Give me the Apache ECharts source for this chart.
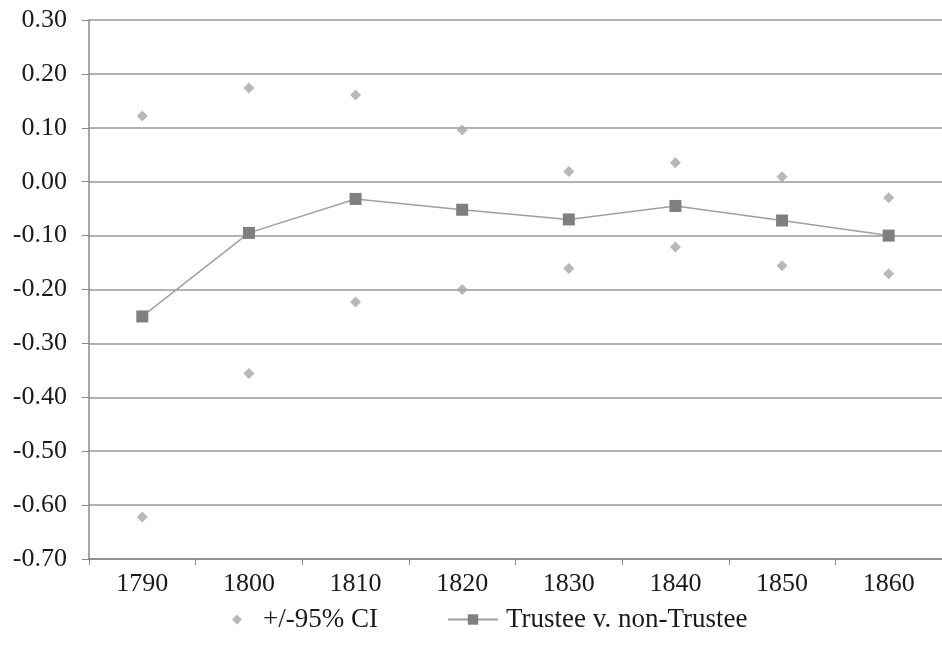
<!DOCTYPE html>
<html><head><meta charset="utf-8">
<script src="https://cdn.jsdelivr.net/npm/echarts@6/dist/echarts.min.js"></script>
<style>html,body{margin:0;padding:0;background:#fff}#c{width:942px;height:656px}</style>
</head><body><div id="c"></div>
<script>
const categories = ['1790','1800','1810','1820','1830','1840','1850','1860'];
const estimate = [-0.250, -0.095, -0.032, -0.052, -0.070, -0.045, -0.072, -0.100];
const upperCI = [0.122, 0.174, 0.161, 0.096, 0.019, 0.035, 0.009, -0.030];
const lowerCI = [-0.622, -0.356, -0.223, -0.200, -0.161, -0.121, -0.156, -0.171];
const ciName = '+/-95% CI';
const lineName = 'Trustee v. non-Trustee';

const font = '"Liberation Serif", "DejaVu Serif", serif';
const chart = echarts.init(document.getElementById('c'));
chart.setOption({
  animation: false,
  backgroundColor: '#fff',
  textStyle: { fontFamily: font },
  grid: { left: 89, top: 20, width: 856, bottom: 97, containLabel: false },
  legend: [
    { data: [ciName], left: 227, top: 601, itemWidth: 10, itemHeight: 10,
      textStyle: { fontFamily: font, fontSize: 27, color: '#1a1a1a', padding: [0, 0, 0, 16] } },
    { data: [lineName], left: 442, top: 601, itemWidth: 50, itemHeight: 13,
      textStyle: { fontFamily: font, fontSize: 27, color: '#1a1a1a', padding: [0, 0, 0, 3] } }
  ],
  xAxis: {
    type: 'category', data: categories, boundaryGap: true,
    axisLine: { onZero: false, lineStyle: { color: '#888', width: 1.5 } },
    axisTick: { show: true, length: 6, lineStyle: { color: '#888' } },
    axisLabel: { margin: 12, fontSize: 26, fontFamily: font, color: '#1a1a1a' },
    splitLine: { show: false }
  },
  yAxis: {
    type: 'value', min: -0.7, max: 0.3, interval: 0.1,
    axisLine: { show: true, lineStyle: { color: '#888', width: 1.5 } },
    axisTick: { show: true, length: 7, lineStyle: { color: '#888' } },
    axisLabel: { margin: 22, fontSize: 26, fontFamily: font, color: '#1a1a1a',
      formatter: v => (Math.round(v * 100) / 100).toFixed(2) },
    splitLine: { show: true, lineStyle: { color: '#9a9a9a', width: 1.5 } }
  },
  series: [
    { name: ciName, type: 'scatter', data: upperCI, symbol: 'diamond', symbolSize: 11,
      itemStyle: { color: '#a6a6a6' } },
    { name: ciName, type: 'scatter', data: lowerCI, symbol: 'diamond', symbolSize: 11,
      itemStyle: { color: '#a6a6a6' } },
    { name: lineName, type: 'line', data: estimate, symbol: 'rect', symbolSize: 12,
      itemStyle: { color: '#7f7f7f' }, lineStyle: { color: '#a0a0a0', width: 1.5 } }
  ]
});
</script></body></html>
